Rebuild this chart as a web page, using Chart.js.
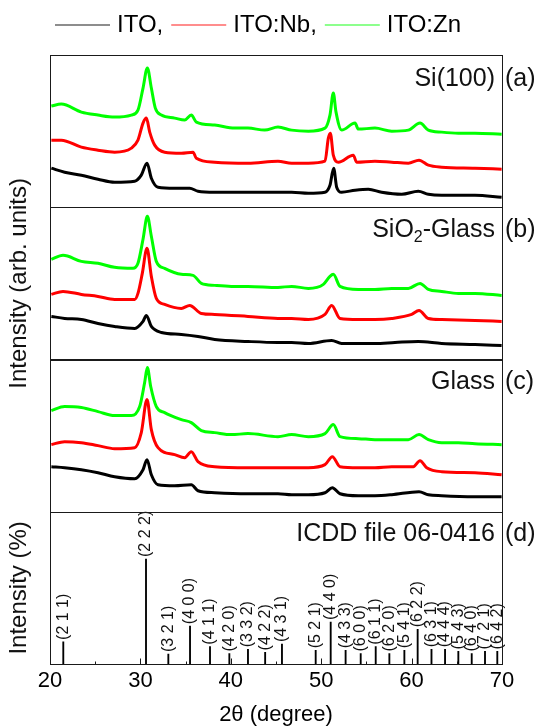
<!DOCTYPE html>
<html>
<head>
<meta charset="utf-8">
<script src="https://cdn.jsdelivr.net/npm/chart.js@4.4.1/dist/chart.umd.min.js"></script>
<style>
  html, body { margin: 0; padding: 0; background: #fff; }
  canvas { display: block; }
</style>
</head>
<body>
<canvas id="c" width="538" height="728"></canvas>
<script>
// ---------------- DATA ----------------
const seriesNames = ['ITO', 'ITO:Nb', 'ITO:Zn'];
const seriesColors = ['#000000', '#ff0000', '#00ff00'];
const panelNames = ['Si(100)', 'SiO2-Glass', 'Glass', 'ICDD file 06-0416'];
const panelTags = ['(a)', '(b)', '(c)', '(d)'];
const xTicks = [20, 30, 40, 50, 60, 70];

// (a) Si(100) substrate  [2θ, intensity (arb.)]
const siITO = [[20.15,39],[21.62,35],[23.47,32],[25.31,28],[27.15,25],[29.37,26],[30.1,32],[30.73,44],[31.21,29],[31.95,20],[33.79,19],[35.45,19],[36.37,16],[38.22,15],[41.9,15],[45.22,15],
  [46.73,15],[48.58,14],[50.42,15],[50.97,22],[51.38,39],[51.71,20],[52.26,15],[53.74,17],[55.21,18],[56.69,15],[58.9,13],[60.74,16],[61.85,13],[63.33,12],[67.01,12],[69.96,10]];
const siNb = [[20.15,67],[21.25,67],[23.47,60],[25.31,57],[27.15,55],[29.0,59],[29.73,67],[30.29,84],[30.66,89],[31.03,75],[31.58,62],[32.68,55],[34.53,54],[35.82,55],[36.19,49],[38.22,45],[41.9,44],[45.22,46],
  [46.73,44],[48.58,44],[50.42,46],[50.79,69],[51.01,74],[51.34,52],[51.9,45],[53.55,52],[53.92,45],[55.95,46],[57.8,45],[59.64,44],[60.82,47],[61.85,42],[63.33,40],[67.01,39],[69.96,38]];
const siZn = [[20.15,101],[21.25,103],[23.47,95],[25.31,92],[27.15,90],[29.0,92],[29.73,97],[30.29,119],[30.77,139],[31.21,119],[31.65,99],[32.32,92],[33.79,89],[34.9,87],[35.63,92],[36.19,85],[38.22,82],[40.43,79],[41.9,79],[43.75,77],[45.22,80],
  [46.73,77],[48.58,76],[50.42,79],[50.97,92],[51.34,114],[51.64,95],[52.26,77],[53.74,84],[54.11,78],[55.95,79],[57.8,76],[59.64,77],[60.93,84],[61.85,77],[63.33,75],[65.17,74],[67.01,74],[69.96,73]];

// (b) SiO2-Glass substrate
const sgITO = [[20.15,43],[21.62,41],[23.47,40],[25.31,36],[27.15,33],[29.37,31],[30.29,38],[30.66,44],[31.21,33],[32.32,27],[34.53,25],[36.37,23],[38.22,20],[41.9,18],[45.22,17],
  [46.73,17],[48.58,16],[51.16,19],[52.26,16],[55.95,16],[58.16,17],[60.74,18],[63.33,16],[67.01,15],[69.96,14]];
const sgNb = [[20.15,65],[21.44,68],[23.47,65],[25.31,63],[27.15,60],[29.37,60],[29.73,66],[30.21,86],[30.73,111],[31.21,83],[31.76,61],[32.68,55],[34.53,51],[35.45,54],[36.74,46],[38.22,45],[41.9,43],[45.22,41],
  [46.73,41],[48.58,40],[50.42,45],[51.16,54],[52.08,41],[54.11,40],[55.95,40],[57.8,41],[60.01,45],[60.82,49],[61.85,41],[63.33,40],[67.01,39],[69.96,38]];
const sgZn = [[20.15,100],[21.44,104],[23.47,98],[25.31,96],[27.15,92],[29.18,91],[29.73,96],[30.29,120],[30.77,143],[31.21,123],[31.76,98],[32.68,91],[34.53,85],[35.82,84],[36.74,76],[38.22,74],[40.06,73],[41.9,73],[45.22,72],
  [46.73,73],[48.58,71],[50.24,75],[50.97,83],[51.34,85],[52.08,73],[54.11,70],[55.95,70],[57.8,71],[59.64,71],[60.93,76],[61.85,70],[63.33,68],[65.17,66],[67.01,66],[69.96,64]];

// (c) Glass substrate
const glITO = [[20.15,45],[21.62,44],[23.47,42],[25.31,39],[27.15,35],[29.37,33],[30.29,42],[30.73,52],[31.21,37],[31.95,27],[33.79,26],[35.63,27],[36.37,21],[38.22,19],[41.9,18],[45.22,18],
  [46.73,17],[48.58,17],[50.42,19],[51.23,24],[52.08,18],[54.11,16],[55.95,16],[57.8,17],[60.82,20],[61.85,17],[63.33,16],[67.01,15],[69.96,15]];
const glNb = [[20.15,67],[21.62,70],[23.47,69],[25.31,66],[27.15,63],[29.37,64],[30.1,79],[30.73,112],[31.21,82],[31.95,64],[33.79,57],[34.9,54],[35.63,60],[36.37,50],[38.22,45],[41.9,44],[45.22,44],
  [46.73,44],[48.58,44],[50.42,47],[51.23,55],[52.08,45],[54.11,44],[55.95,44],[57.8,45],[60.19,45],[60.93,51],[61.67,44],[63.33,40],[67.01,39],[69.96,37]];
const glZn = [[20.15,101],[21.62,105],[23.47,104],[25.31,100],[27.15,96],[29.0,96],[29.92,105],[30.47,129],[30.77,144],[31.14,125],[31.76,105],[32.68,99],[34.53,92],[35.63,89],[36.74,81],[38.22,79],[40.06,77],[41.9,78],[45.22,75],
  [46.73,77],[48.58,75],[50.42,78],[51.34,87],[52.08,75],[54.11,73],[55.95,72],[57.8,72],[59.64,72],[60.82,77],[61.85,72],[63.33,69],[65.17,69],[67.01,68],[69.96,67]];

// (d) ICDD 06-0416 reference pattern
const icddTheta = [21.47, 30.62, 33.09, 35.49, 37.70, 39.84, 41.90, 43.80, 45.66, 49.39, 51.05, 52.70, 54.37, 56.03, 57.54, 59.20, 60.67, 62.20, 63.70, 65.17, 66.65, 68.12, 69.48];
const icddInt = [21, 100, 9.5, 36, 16.5, 10, 14, 11, 19, 13, 40, 13, 10, 16.5, 10, 13, 33, 14, 14, 12, 10, 12, 12];
const icddHkl = ['(2 1 1)','(2 2 2)','(3 2 1)','(4 0 0)','(4 1 1)','(4 2 0)','(3 3 2)','(4 2 2)','(4 3 1)','(5 2 1)','(4 4 0)','(4 3 3)','(6 0 0)','(6 1 1)','(6 2 0)','(5 4 1)','(6 2 2)','(6 3 1)','(4 4 4)','(5 4 3)','(6 4 0)','(7 2 1)','(6 4 2)'];

// ---------------- CHART ----------------
const FONT = '"Liberation Sans", Arial, Helvetica, sans-serif';
const panels = [
  { axis: 'yA', series: [siITO, siNb, siZn] },
  { axis: 'yB', series: [sgITO, sgNb, sgZn] },
  { axis: 'yC', series: [glITO, glNb, glZn] }
];

const datasets = [];
panels.forEach(p => {
  p.series.forEach((arr, i) => {
    datasets.push({
      type: 'line',
      label: seriesNames[i],
      data: arr.map(([x, y]) => ({ x, y })),
      yAxisID: p.axis,
      borderColor: seriesColors[i],
      backgroundColor: seriesColors[i],
      borderWidth: 3,
      pointRadius: 0,
      cubicInterpolationMode: 'monotone',
      fill: false
    });
  });
});
datasets.push({
  type: 'bar',
  label: 'ICDD 06-0416',
  data: icddTheta.map((x, i) => ({ x, y: icddInt[i] })),
  yAxisID: 'yD',
  backgroundColor: '#000',
  barThickness: 1.2
});

function hiddenY(min, max) {
  return {
    type: 'linear', stack: 'xrd', stackWeight: 1, position: 'left',
    min, max,
    ticks: { display: false },
    grid: { display: false, drawTicks: false },
    border: { display: false },
    afterFit(s) { s.width = 0; }
  };
}

const framePlugin = {
  id: 'frame',
  afterDraw(chart) {
    const ctx = chart.ctx;
    const ca = chart.chartArea;
    const xs = chart.scales.x;
    ctx.save();
    // panel frames
    ctx.strokeStyle = '#1a1a1a';
    ctx.lineWidth = 1;
    ['yA', 'yB', 'yC', 'yD'].forEach(id => {
      const s = chart.scales[id];
      ctx.strokeRect(Math.round(ca.left) + 0.5, Math.round(s.top) + 0.5,
                     Math.round(ca.right - ca.left), Math.round(s.bottom - s.top));
    });
    // inward ticks on the bottom axis
    const yb = Math.round(chart.scales.yD.bottom) + 0.5;
    ctx.beginPath();
    for (let v = 20; v <= 70; v += 5) {
      const px = Math.round(xs.getPixelForValue(v)) + 0.5;
      const len = (v % 10 === 0) ? 6 : 3;
      ctx.moveTo(px, yb);
      ctx.lineTo(px, yb - len);
    }
    ctx.stroke();

    // panel labels
    ctx.fillStyle = '#111';
    ctx.textBaseline = 'alphabetic';
    const baseOff = [31, 29.5, 29.5, 29];
    ['yA', 'yB', 'yC', 'yD'].forEach((id, i) => {
      const s = chart.scales[id];
      const by = s.top + baseOff[i];
      const rx = ca.right - 7;
      ctx.font = '25px ' + FONT;
      if (panelNames[i] === 'SiO2-Glass') {
        const p1 = 'SiO', p3 = '-Glass';
        ctx.font = '25px ' + FONT;
        const w1 = ctx.measureText(p1).width, w3 = ctx.measureText(p3).width;
        ctx.font = '16px ' + FONT;
        const w2 = ctx.measureText('2').width;
        let x0 = rx - (w1 + w2 + w3);
        ctx.textAlign = 'left';
        ctx.font = '25px ' + FONT;
        ctx.fillText(p1, x0, by);
        ctx.font = '16px ' + FONT;
        ctx.fillText('2', x0 + w1, by + 5);
        ctx.font = '25px ' + FONT;
        ctx.fillText(p3, x0 + w1 + w2, by);
      } else {
        ctx.textAlign = 'right';
        ctx.fillText(panelNames[i], rx, by);
      }
      ctx.textAlign = 'left';
      ctx.fillText(panelTags[i], ca.right + 3, by);
    });

    // y-axis titles
    ctx.font = '24px ' + FONT;
    ctx.textAlign = 'center';
    ctx.textBaseline = 'middle';
    const ttl = (text, yc) => {
      ctx.save();
      ctx.translate(19, yc);
      ctx.rotate(-Math.PI / 2);
      ctx.fillText(text, 0, 0);
      ctx.restore();
    };
    ttl('Intensity (arb. units)', (chart.scales.yA.top + chart.scales.yC.bottom) / 2);
    ttl('Intensity (%)', (chart.scales.yD.top + chart.scales.yD.bottom) / 2);

    // legend
    ctx.font = '24px ' + FONT;
    ctx.textAlign = 'left';
    ctx.textBaseline = 'middle';
    let lx = 55;
    const ly = 25;
    seriesNames.forEach((n, i) => {
      ctx.strokeStyle = seriesColors[i];
      ctx.globalAlpha = 0.6;
      ctx.lineWidth = 1.6;
      ctx.beginPath();
      ctx.moveTo(lx, ly);
      ctx.lineTo(lx + 55, ly);
      ctx.stroke();
      ctx.globalAlpha = 1;
      const t = n + (i < seriesNames.length - 1 ? ',' : '');
      ctx.fillStyle = '#000';
      ctx.fillText(t, lx + 62, ly);
      lx += 62 + ctx.measureText(t).width + 8;
    });
    ctx.restore();
  },
  afterDatasetsDraw(chart) {
    // hkl labels above the reference sticks
    const meta = chart.getDatasetMeta(chart.data.datasets.length - 1);
    const ctx = chart.ctx;
    ctx.save();
    ctx.font = '16px ' + FONT;
    ctx.fillStyle = '#111';
    ctx.textAlign = 'left';
    ctx.textBaseline = 'middle';
    meta.data.forEach((el, i) => {
      ctx.save();
      ctx.translate(el.x, el.y - 2);
      ctx.rotate(-Math.PI / 2);
      ctx.fillText(icddHkl[i], 0, 0);
      ctx.restore();
    });
    ctx.restore();
  }
};

new Chart(document.getElementById('c'), {
  type: 'line',
  data: { datasets },
  options: {
    responsive: false,
    animation: false,
    devicePixelRatio: 1,
    layout: { padding: { left: 50, right: 36, top: 55, bottom: 0 } },
    plugins: { legend: { display: false }, tooltip: { enabled: false } },
    scales: {
      x: {
        type: 'linear', position: 'bottom', min: 20, max: 70, offset: false,
        afterBuildTicks(s) { s.ticks = xTicks.map(v => ({ value: v })); },
        ticks: { color: '#000', font: { size: 22, family: FONT }, padding: 4, maxRotation: 0 },
        grid: { display: false, drawTicks: false },
        border: { display: false },
        title: { display: true, text: '2θ (degree)', color: '#000', font: { size: 22, family: FONT }, padding: { top: 2, bottom: 0 } },
        afterFit(s) { s.height = 64; }
      },
      // stacked panels: first listed is drawn at the bottom
      yD: hiddenY(0, 145),
      yC: hiddenY(0, 152),
      yB: hiddenY(0, 152),
      yA: hiddenY(0, 152)
    }
  },
  plugins: [framePlugin]
});
</script>
</body>
</html>
